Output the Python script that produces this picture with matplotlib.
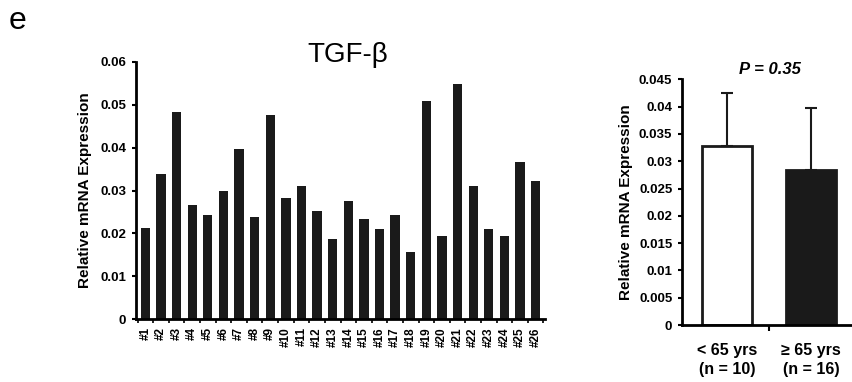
import matplotlib
matplotlib.use("Agg")
import matplotlib.pyplot as plt
import numpy as np

plt.rcParams['font.family'] = ['Liberation Sans', 'DejaVu Sans']

# per-patient TGF-beta expression
patients = ["#%d" % i for i in range(1, 27)]
expression = [0.0213, 0.0339, 0.0484, 0.0266, 0.0243, 0.0298, 0.0398, 0.0237,
              0.0476, 0.0282, 0.0311, 0.0252, 0.0187, 0.0275, 0.0234, 0.0211,
              0.0243, 0.0156, 0.0508, 0.0193, 0.0548, 0.0311, 0.0211, 0.0193,
              0.0366, 0.0323]

# age groups
groups = ["< 65 yrs\n(n = 10)", "\u2265 65 yrs\n(n = 16)"]
group_means = [0.0327, 0.0284]
group_err = [0.0098, 0.0113]
group_colors = ["white", "#1a1a1a"]
p_label = "P = 0.35"

W, H = 852, 382
fig = plt.figure(figsize=(W / 100, H / 100), dpi=100)


def box(x0, x1, ytop, ybot):
    return [x0 / W, 1 - ybot / H, (x1 - x0) / W, (ybot - ytop) / H]


def style(ax, size):
    for s in ["top", "right"]:
        ax.spines[s].set_visible(False)
    for s in ["left", "bottom"]:
        ax.spines[s].set_linewidth(2)
    ax.tick_params(axis="y", direction="out", length=3, width=1.5, pad=4)
    for lab in ax.get_yticklabels():
        lab.set_fontweight("bold")
        lab.set_fontsize(size)


# left panel
ax1 = fig.add_axes(box(136, 545, 62, 319))
x = np.arange(len(patients))
ax1.bar(x, expression, width=0.6, color="#1a1a1a")
ax1.set_xlim(-0.6, 25.6)
ax1.set_ylim(0, 0.06)
ax1.set_yticks([0, 0.01, 0.02, 0.03, 0.04, 0.05, 0.06])
ax1.set_yticklabels(["0", "0.01", "0.02", "0.03", "0.04", "0.05", "0.06"])
ax1.set_xticks(x)
ax1.set_xticklabels(patients, rotation=90, fontsize=8.5, fontweight="bold", va="top")
ax1.tick_params(axis="x", length=0, pad=6)
ax1.set_xticks(np.arange(-0.5, 26, 1), minor=True)
ax1.tick_params(axis="x", which="minor", direction="out", length=3, width=1.2)
style(ax1, 9.5)
ax1.set_ylabel("Relative mRNA Expression", fontsize=11, fontweight="bold", labelpad=6)
fig.text(348 / W, 1 - 55 / H, "TGF-\u03b2", fontsize=20, ha="center", va="center")
fig.text(9 / W, 1 - 21 / H, "e", fontsize=23, ha="left", va="center")

# right panel
ax2 = fig.add_axes(box(682, 852, 79.3, 325))
gx = np.arange(len(groups))
ax2.bar(gx, group_means, width=0.6, color=group_colors, edgecolor="#1a1a1a", linewidth=2)
ax2.errorbar(gx, group_means, yerr=[[0, 0], group_err], fmt="none", ecolor="#1a1a1a",
             elinewidth=1.5, capsize=4, capthick=1.5)
ax2.set_xlim(-0.54, 1.49)
ax2.set_ylim(0, 0.045)
yt = [0, 0.005, 0.01, 0.015, 0.02, 0.025, 0.03, 0.035, 0.04, 0.045]
ax2.set_yticks(yt)
ax2.set_yticklabels(["0", "0.005", "0.01", "0.015", "0.02", "0.025", "0.03", "0.035",
                     "0.04", "0.045"])
ax2.set_xticks(gx)
ax2.set_xticklabels(groups, fontsize=11.5, fontweight="bold", linespacing=1.35)
ax2.tick_params(axis="x", length=0, pad=13)
ax2.set_xticks([0.5], minor=True)
ax2.tick_params(axis="x", which="minor", direction="out", length=4, width=1.5)
style(ax2, 9.5)
ax2.set_ylabel("Relative mRNA Expression", fontsize=11, fontweight="bold", labelpad=4)
fig.text(770 / W, 1 - 70 / H, p_label, fontsize=12, fontweight="bold", style="italic",
         ha="center", va="center")

fig.savefig("out.png", dpi=100)
